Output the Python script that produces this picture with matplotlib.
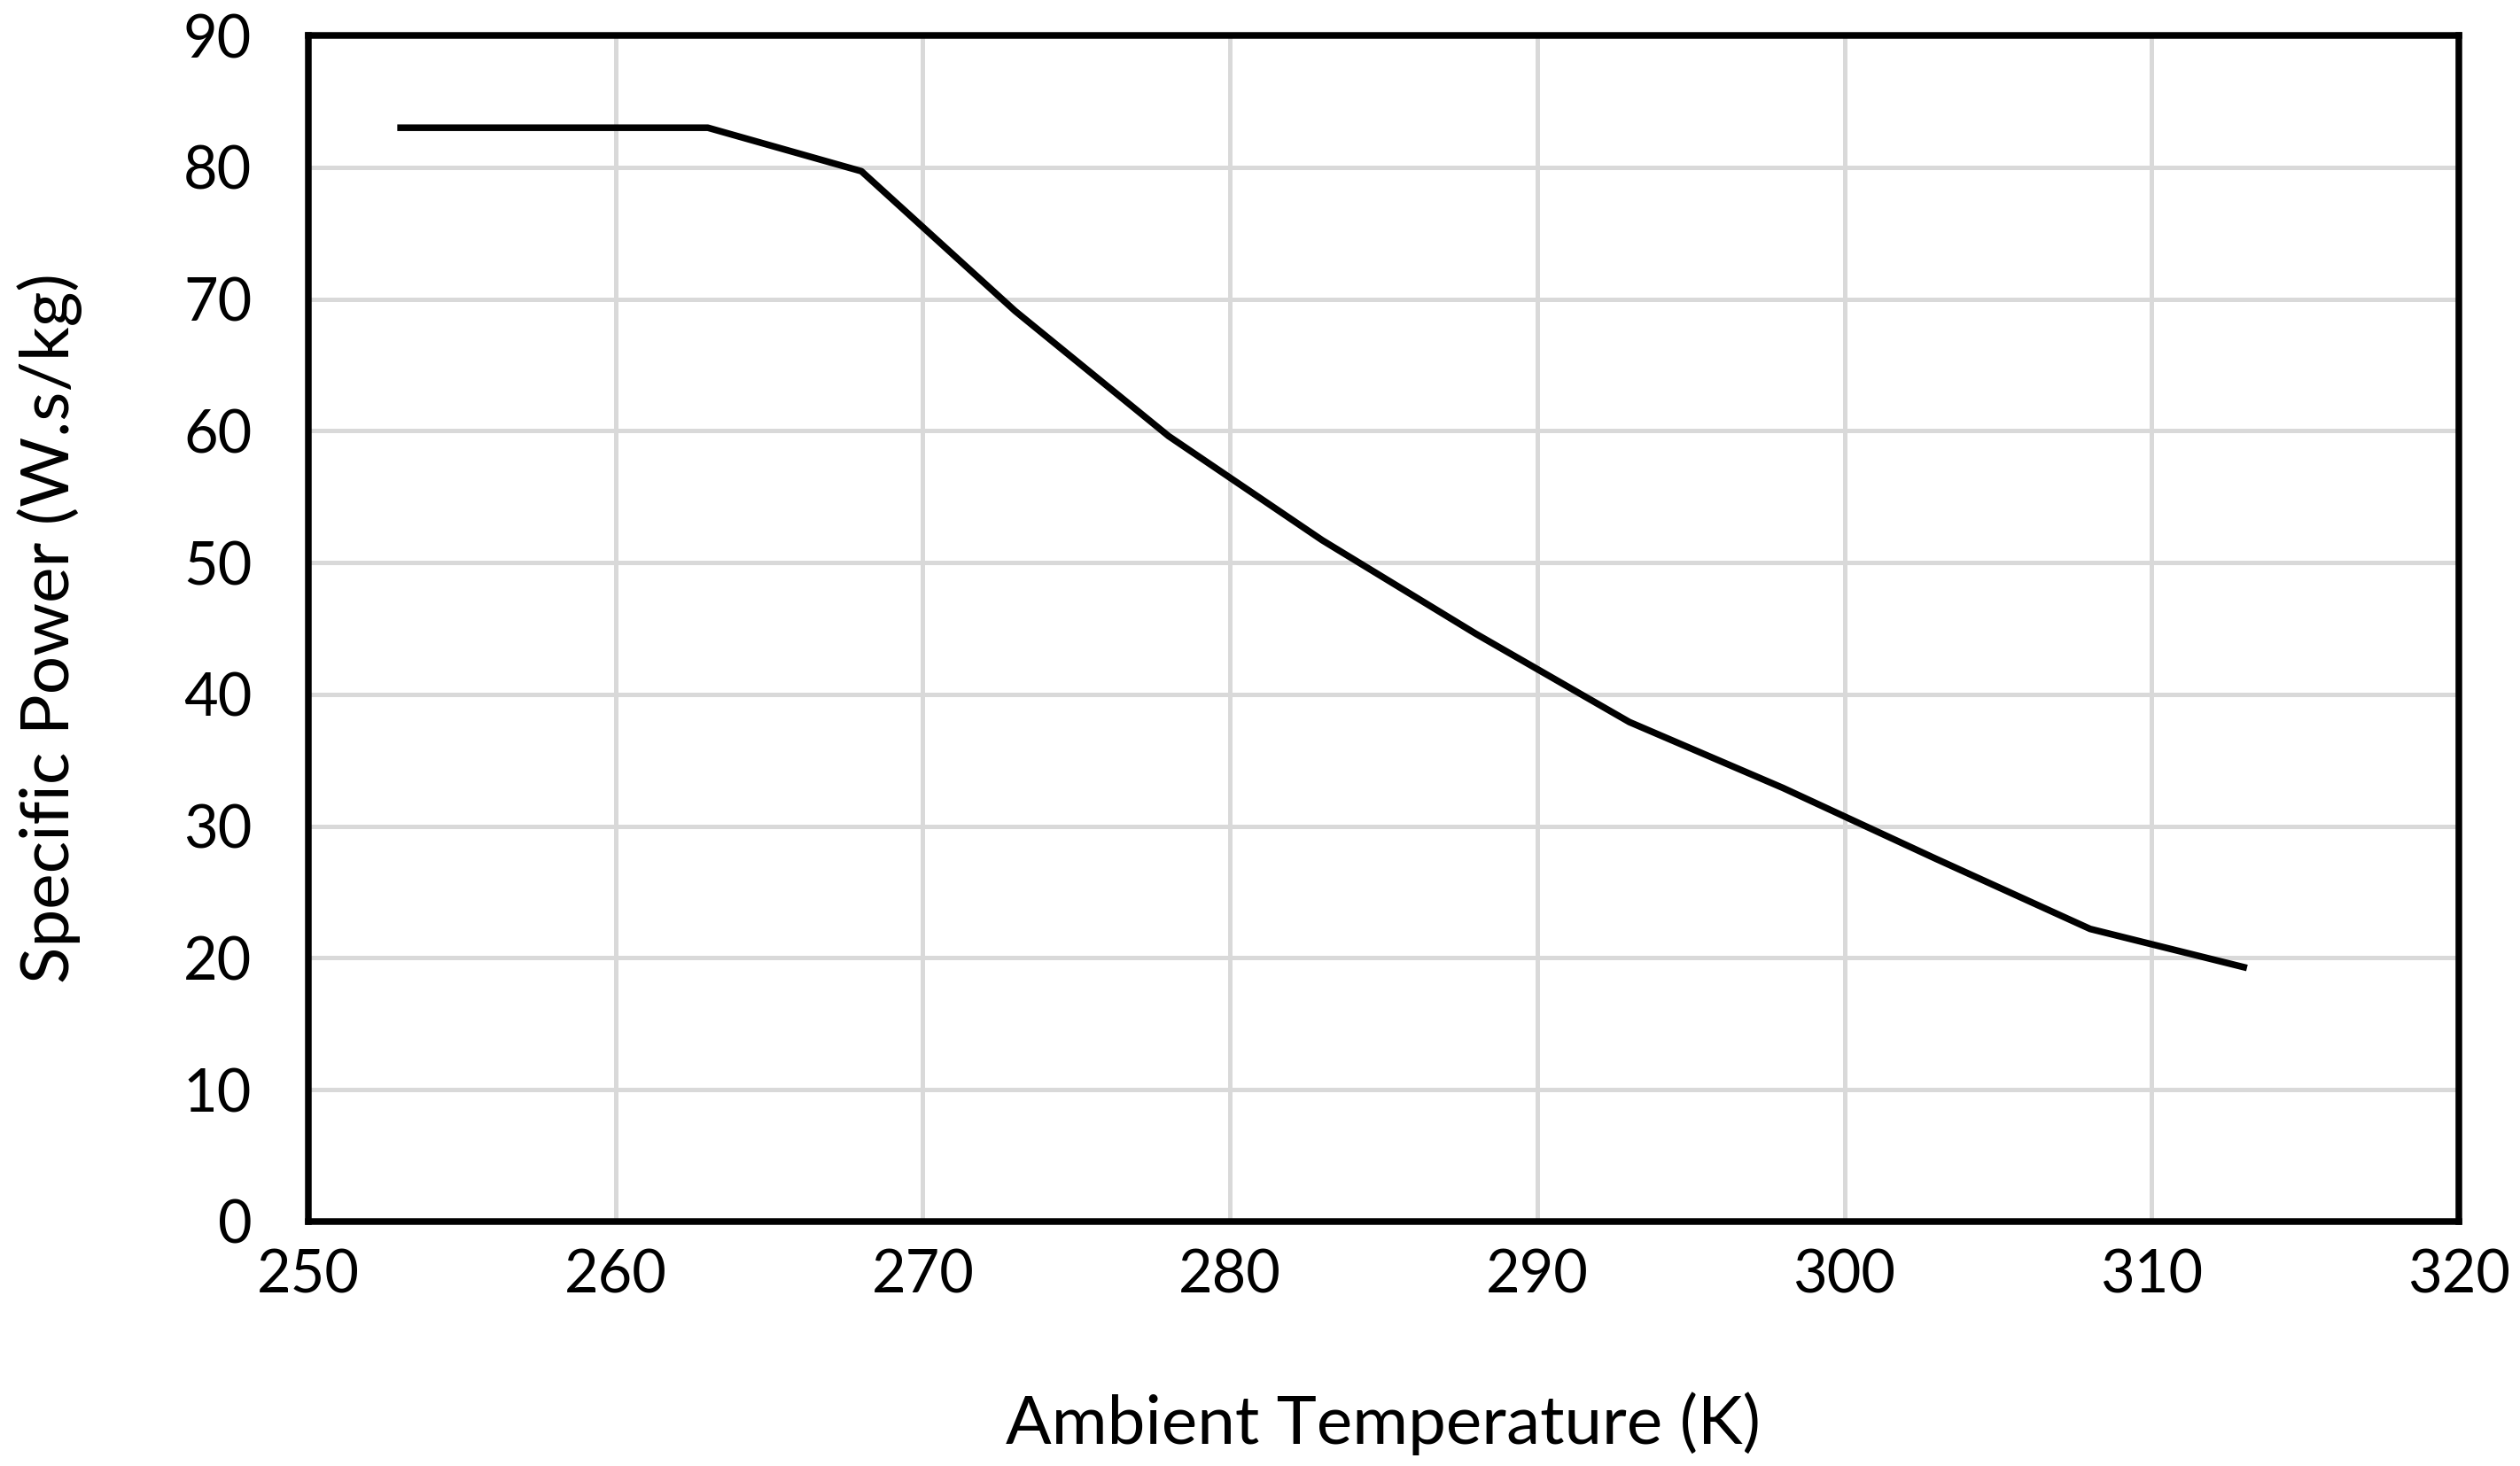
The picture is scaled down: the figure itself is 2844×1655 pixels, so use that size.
import matplotlib
matplotlib.use("Agg")
import matplotlib.pyplot as plt

# values
temperature = [253, 263, 268, 273, 278, 283, 288, 293, 298, 303, 308, 313]
specific_power = [83.0, 83.0, 79.7, 69.1, 59.6, 51.7, 44.6, 37.9, 32.9, 27.5, 22.2, 19.3]

x_ticks = [250, 260, 270, 280, 290, 300, 310, 320]
y_ticks = [0, 10, 20, 30, 40, 50, 60, 70, 80, 90]

plt.rcParams['font.family'] = ['Lato', 'DejaVu Sans']

fig = plt.figure(figsize=(14.22, 8.275), dpi=200)
ax = fig.add_axes([0.1224, 0.1668, 0.8533, 0.8090])

ax.grid(True, color="#d9d9d9", linewidth=1.8, zorder=0)
ax.plot(temperature, specific_power, color="black", linewidth=2.7, zorder=3)

ax.set_xlim(250, 320)
ax.set_ylim(0, 90)
ax.set_xticks(x_ticks)
ax.set_yticks(y_ticks)
ax.tick_params(axis="both", length=0, labelsize=24, colors="black")
ax.tick_params(axis="x", pad=11)
ax.tick_params(axis="y", pad=23)

for side in ax.spines.values():
    side.set_linewidth(2.7)
    side.set_color("black")
    side.set_zorder(4)

ax.set_xlabel("Ambient Temperature (K)", fontsize=27.5, labelpad=36)
ax.set_ylabel("Specific Power (W.s/kg)", fontsize=27.5, labelpad=41)

fig.savefig("out.png", dpi=200)
